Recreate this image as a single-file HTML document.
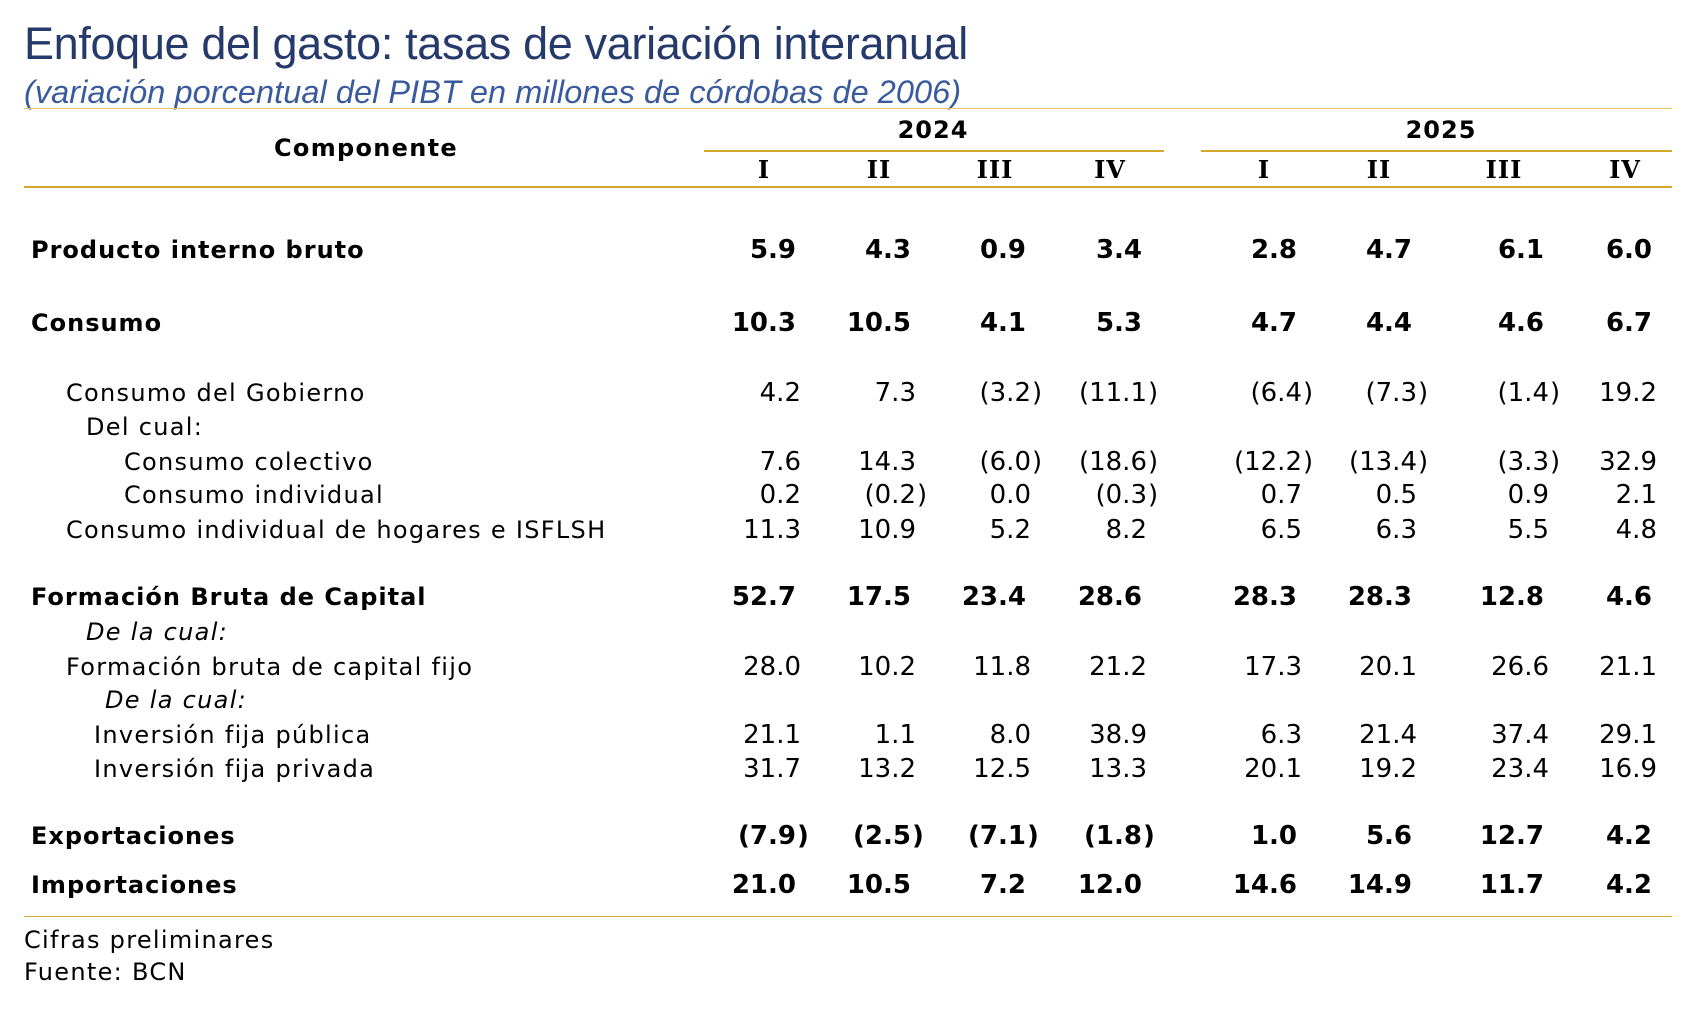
<!DOCTYPE html>
<html><head><meta charset="utf-8"><style>
body{margin:0;width:1704px;height:1010px;background:#fff;position:relative;overflow:hidden;font-family:"DejaVu Sans","Liberation Sans",sans-serif;color:#000}
.t{position:absolute;white-space:nowrap;line-height:30px;font-size:24px;letter-spacing:1.3px}
.b{font-weight:bold;letter-spacing:1px}
.r{text-align:right}
.c{text-align:center}
.rule{position:absolute;height:2px;background:#d4a82a}
</style></head><body>
<div class="t" style="left:24px;top:21px;line-height:46px;font-size:45px;letter-spacing:-0.35px;color:#253a6a;font-family:'Liberation Sans',sans-serif;">Enfoque del gasto: tasas de variación interanual</div>
<div class="t" style="left:24px;top:75px;line-height:34px;font-size:32.5px;letter-spacing:0.05px;color:#3a5a9e;font-style:italic;font-family:'Liberation Sans',sans-serif;">(variación porcentual del PIBT en millones de córdobas de 2006)</div>
<div class="rule" style="left:24px;width:1648px;top:108px;height:1px;background:#e6c46a"></div>
<div class="t b c" style="left:246px;width:240px;top:133px;letter-spacing:1.3px">Componente</div>
<div class="t b c" style="left:883px;width:100px;top:115px">2024</div>
<div class="t b c" style="left:1391px;width:100px;top:115px">2025</div>
<div class="rule" style="left:704px;width:460px;top:150px"></div>
<div class="rule" style="left:1201px;width:471px;top:150px"></div>
<div class="rule" style="left:24px;width:1648px;top:186px"></div>
<div id="q"></div>
<div id="rows"></div>
<div class="rule" style="left:24px;width:1648px;top:916px;height:1px"></div>
<div class="t" style="left:24px;top:925px">Cifras preliminares</div>
<div class="t" style="left:24px;top:957px">Fuente: BCN</div>
<script>
var qx=[764,879,995,1110,1264,1379,1504,1625],ql=["I","II","III","IV","I","II","III","IV"],h="";
for(var i=0;i<8;i++)h+='<div class="t b c" style="left:'+(qx[i]-40)+'px;width:80px;top:155px;font-family:\'DejaVu Serif\',serif">'+ql[i]+'</div>';
var cr=[801,916,1031,1147,1302,1417,1549,1657];
var rows=[
[250,31,1,"Producto interno bruto","5.9 4.3 0.9 3.4 2.8 4.7 6.1 6.0"],
[323,31,1,"Consumo","10.3 10.5 4.1 5.3 4.7 4.4 4.6 6.7"],
[393,66,0,"Consumo del Gobierno","4.2 7.3 (3.2) (11.1) (6.4) (7.3) (1.4) 19.2"],
[427,86,0,"Del cual:",""],
[462,124,0,"Consumo colectivo","7.6 14.3 (6.0) (18.6) (12.2) (13.4) (3.3) 32.9"],
[495,124,0,"Consumo individual","0.2 (0.2) 0.0 (0.3) 0.7 0.5 0.9 2.1"],
[530,66,0,"Consumo individual de hogares e ISFLSH","11.3 10.9 5.2 8.2 6.5 6.3 5.5 4.8"],
[597,31,1,"Formación Bruta de Capital","52.7 17.5 23.4 28.6 28.3 28.3 12.8 4.6"],
[632,86,2,"De la cual:",""],
[667,66,0,"Formación bruta de capital fijo","28.0 10.2 11.8 21.2 17.3 20.1 26.6 21.1"],
[700,105,2,"De la cual:",""],
[735,94,0,"Inversión fija pública","21.1 1.1 8.0 38.9 6.3 21.4 37.4 29.1"],
[769,94,0,"Inversión fija privada","31.7 13.2 12.5 13.3 20.1 19.2 23.4 16.9"],
[836,31,1,"Exportaciones","(7.9) (2.5) (7.1) (1.8) 1.0 5.6 12.7 4.2"],
[885,31,1,"Importaciones","21.0 10.5 7.2 12.0 14.6 14.9 11.7 4.2"]];
var s="";
rows.forEach(function(r){
 var y=r[0]-15,cls=r[2]==1?"t b":"t",st=r[2]==2?"font-style:italic;":"";
 s+='<div class="'+cls+'" style="left:'+r[1]+'px;top:'+y+'px;'+st+'">'+r[3]+'</div>';
 if(r[4]){r[4].split(" ").forEach(function(v,i){
  var x=cr[i]-(r[2]==1?5:0),p=v.indexOf("(")==0;
  if(p){v=v.slice(0,-1);}
  s+='<div class="'+cls+' r" style="right:'+(1704-x)+'px;top:'+y+'px;letter-spacing:0;font-size:26px">'+v+(p?'<span style="position:absolute;left:100%;margin-left:1px">)</span>':'')+'</div>';
 });}
});
document.getElementById("q").outerHTML=h;
document.getElementById("rows").outerHTML=s;
</script>
</body></html>
